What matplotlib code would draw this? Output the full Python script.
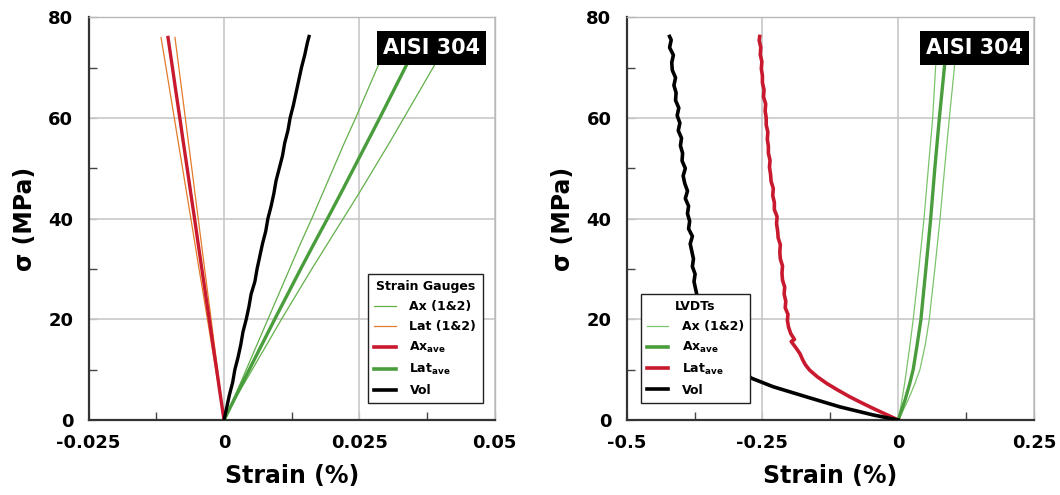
import matplotlib
matplotlib.use("Agg")
import matplotlib.pyplot as plt
from matplotlib.lines import Line2D
from matplotlib.patches import Rectangle
from matplotlib.ticker import FixedLocator

plt.rcParams['font.family'] = ['DejaVu Sans']
plt.rcParams['font.weight'] = 'bold'
plt.rcParams['mathtext.default'] = 'regular'

# ---------------- Left panel: strain gauges ----------------
sg_stress = [0, 5, 10, 15, 20, 25, 30, 35, 40, 45, 50, 55, 60, 65, 70, 76]
sg_ax1 = [0, 0.0021, 0.0041, 0.0061, 0.0081, 0.0101, 0.0121, 0.0141, 0.0162,
          0.0182, 0.0202, 0.0222, 0.0243, 0.0263, 0.0283, 0.0307]
sg_ax2 = [0, 0.0025, 0.0052, 0.0079, 0.0106, 0.0134, 0.0162, 0.0191, 0.0220,
          0.0249, 0.0277, 0.0305, 0.0332, 0.0359, 0.0386, 0.0418]
sg_lat1 = [0, -0.00077, -0.00153, -0.0023, -0.00306, -0.00383, -0.0046, -0.00536,
           -0.00612, -0.00689, -0.00765, -0.00842, -0.00918, -0.00995, -0.0107, -0.01163]
sg_lat2 = [0, -0.0006, -0.00119, -0.00179, -0.00238, -0.00298, -0.00357, -0.00417,
           -0.00476, -0.00536, -0.00595, -0.00655, -0.00714, -0.00774, -0.00834, -0.00905]
sg_lat_ave = [0, -0.00069, -0.00136, -0.00205, -0.00272, -0.00341, -0.00409, -0.00477,
              -0.00544, -0.00613, -0.0068, -0.00749, -0.00816, -0.00885, -0.00952, -0.01034]
sg_ax_ave = [0, 0.0023, 0.00465, 0.007, 0.00935, 0.01175, 0.01415, 0.0166, 0.0191,
             0.02155, 0.02395, 0.02635, 0.02875, 0.0311, 0.03345, 0.03625]
sg_vol_stress = [0, 2.5, 5, 7.5, 10, 12.5, 15, 17.5, 20, 22.5, 25, 27.5, 30, 32.5, 35,
                 37.5, 40, 42.5, 45, 47.5, 50, 52.5, 55, 57.5, 60, 62.5, 65, 67.5, 70,
                 72.5, 75, 76.2]
sg_vol = [0, 0.0005, 0.0010, 0.0016, 0.0020, 0.0026, 0.0031, 0.0035, 0.0041, 0.0046,
          0.0050, 0.0057, 0.0061, 0.0066, 0.0071, 0.0077, 0.0081, 0.0087, 0.0092, 0.0096,
          0.0102, 0.0108, 0.0112, 0.0118, 0.0122, 0.0128, 0.0133, 0.0138, 0.0143, 0.0149,
          0.0154, 0.0157]

# ---------------- Right panel: LVDTs ----------------
lv_ax_stress = [0, 2, 4, 7, 10, 15, 19.9, 30, 39.7, 50, 59.6, 71, 76]
lv_ax1 = [0, 0.0036, 0.007, 0.0115, 0.0155, 0.0218, 0.0276, 0.038, 0.0473, 0.0555,
          0.0633, 0.0694, 0.0725]
lv_ax2 = [0, 0.0095, 0.0184, 0.030, 0.040, 0.050, 0.0571, 0.0675, 0.0768, 0.0855,
          0.0939, 0.1044, 0.108]
lv_ax_ave = [0, 0.0065, 0.0127, 0.0207, 0.0276, 0.035, 0.0418, 0.051, 0.0596, 0.0675,
             0.0755, 0.086, 0.089]
lv_lat_stress = [0, 1, 2.3, 3.4, 4.6, 6, 7.3, 8.6, 9.9, 11, 12, 13.2, 14.3, 15.6, 16,
                 17.2, 18.5, 19.8, 21, 22.3, 23.6, 25, 26.4, 27.8, 29.2, 30.6, 32, 33.4,
                 34.8, 36.2, 37.6, 39, 40.4, 41.8, 43.2, 44.6, 46, 47.4, 48.8, 50.2, 51.6,
                 53, 54.4, 55.8, 57.2, 58.6, 60, 61.4, 62.8, 64.2, 65.6, 67, 68.4, 69.8,
                 71.2, 72.6, 74, 75.4, 76.2]
lv_lat_ave = [0, -0.020, -0.046, -0.067, -0.089, -0.112, -0.132, -0.149, -0.163, -0.171,
              -0.176, -0.181, -0.188, -0.197, -0.191, -0.198, -0.202, -0.204, -0.203,
              -0.208, -0.207, -0.210, -0.209, -0.213, -0.214, -0.213, -0.217, -0.218,
              -0.217, -0.221, -0.222, -0.224, -0.223, -0.228, -0.228, -0.231, -0.230,
              -0.234, -0.235, -0.237, -0.236, -0.239, -0.239, -0.241, -0.240, -0.243,
              -0.243, -0.245, -0.244, -0.248, -0.247, -0.250, -0.250, -0.252, -0.251,
              -0.254, -0.253, -0.256, -0.255]
lv_vol_stress = [0, 1.0, 2.6, 4.6, 6.6, 8.3, 11, 14.5, 19, 23, 26, 27.5, 29, 30.5, 32,
                 33.5, 35, 36.5, 38, 39.5, 41, 42.5, 44, 45.5, 47, 48.5, 50, 51.5, 53,
                 54.5, 56, 57.5, 59, 60.5, 62, 63.5, 65, 66.5, 68, 69.5, 71, 72.5, 74,
                 75.5, 76.2]
lv_vol = [0, -0.046, -0.107, -0.169, -0.230, -0.270, -0.305, -0.333, -0.355, -0.367,
          -0.373, -0.376, -0.374, -0.379, -0.377, -0.380, -0.383, -0.379, -0.386, -0.384,
          -0.388, -0.386, -0.392, -0.388, -0.393, -0.396, -0.392, -0.398, -0.397, -0.401,
          -0.399, -0.405, -0.402, -0.407, -0.404, -0.410, -0.409, -0.413, -0.410, -0.416,
          -0.417, -0.414, -0.421, -0.418, -0.421]

left_xticks = [-0.025, 0, 0.025, 0.05]
left_xlabels = ['-0.025', '0', '0.025', '0.05']
left_xminor = [-0.0125, 0.0125, 0.0375]
right_xticks = [-0.5, -0.25, 0, 0.25]
right_xlabels = ['-0.5', '-0.25', '0', '0.25']
right_xminor = [-0.375, -0.125, 0.125]
yticks = [0, 20, 40, 60, 80]
ylabels = ['0', '20', '40', '60', '80']

GREEN_THIN = '#62b04a'
GREEN_THIN_R = '#7cc46c'
GREEN = '#4a9d3c'
ORANGE = '#e47b2a'
RED = '#c8192e'
BLACK = '#000000'
GRID = '#c4c4c4'

fig = plt.figure(figsize=(10.6, 4.95), dpi=100)
ax1 = fig.add_axes([0.0836, 0.1515, 0.3832, 0.8135])
ax2 = fig.add_axes([0.5912, 0.1515, 0.3842, 0.8135])


def style(ax, xlim, xt, xl, xm):
    ax.set_xlim(xlim)
    ax.set_ylim(0, 80)
    ax.set_xticks(xt)
    ax.set_xticklabels(xl)
    ax.xaxis.set_minor_locator(FixedLocator(xm))
    ax.set_yticks(yticks)
    ax.set_yticklabels(ylabels)
    ax.yaxis.set_minor_locator(FixedLocator([10, 30, 50, 70]))
    ax.set_axisbelow(True)
    ax.grid(True, which='major', color=GRID, lw=1.1)
    ax.tick_params(which='major', direction='in', length=6, width=1, color=GRID,
                   labelsize=13)
    ax.tick_params(which='minor', direction='in', length=6, width=1, color='#444444')
    ax.tick_params(axis='x', which='major', pad=10)
    ax.tick_params(axis='y', which='major', pad=11)
    for s in ['top', 'right']:
        ax.spines[s].set_color('#b8b8b8')
        ax.spines[s].set_linewidth(1.0)
    for s in ['left', 'bottom']:
        ax.spines[s].set_color('#333333')
        ax.spines[s].set_linewidth(1.6)
    ax.set_xlabel('Strain (%)', fontsize=17, fontweight='bold', labelpad=9)
    ax.set_ylabel('σ (MPa)', fontsize=17, fontweight='bold', labelpad=8)


style(ax1, (-0.025, 0.05), left_xticks, left_xlabels, left_xminor)
style(ax2, (-0.5, 0.25), right_xticks, right_xlabels, right_xminor)

# Left panel lines
ax1.plot(sg_ax1, sg_stress, color=GREEN_THIN, lw=0.9, zorder=3)
ax1.plot(sg_ax2, sg_stress, color=GREEN_THIN, lw=0.9, zorder=3)
ax1.plot(sg_lat1, sg_stress, color=ORANGE, lw=0.9, zorder=3)
ax1.plot(sg_lat2, sg_stress, color=ORANGE, lw=0.9, zorder=3)
ax1.plot(sg_lat_ave, sg_stress, color=RED, lw=2.4, zorder=4)
ax1.plot(sg_ax_ave, sg_stress, color=GREEN, lw=2.4, zorder=4)
ax1.plot(sg_vol, sg_vol_stress, color=BLACK, lw=2.4, zorder=4)

# Right panel lines
ax2.plot(lv_ax1, lv_ax_stress, color=GREEN_THIN_R, lw=0.9, zorder=3)
ax2.plot(lv_ax2, lv_ax_stress, color=GREEN_THIN_R, lw=0.9, zorder=3)
ax2.plot(lv_ax_ave, lv_ax_stress, color=GREEN, lw=2.4, zorder=4)
ax2.plot(lv_lat_ave, lv_lat_stress, color=RED, lw=2.6, zorder=4)
ax2.plot(lv_vol, lv_vol_stress, color=BLACK, lw=2.6, zorder=4)

# Legends
h1 = [Line2D([], [], color=GREEN_THIN, lw=0.9),
      Line2D([], [], color=ORANGE, lw=0.9),
      Line2D([], [], color=RED, lw=2.6),
      Line2D([], [], color=GREEN, lw=2.6),
      Line2D([], [], color=BLACK, lw=2.6)]
l1 = ['Ax (1&2)', 'Lat (1&2)', r'Ax$_{\mathsf{ave}}$', r'Lat$_{\mathsf{ave}}$', 'Vol']
h2 = [Line2D([], [], color=GREEN_THIN_R, lw=0.9),
      Line2D([], [], color=GREEN, lw=2.6),
      Line2D([], [], color=RED, lw=2.6),
      Line2D([], [], color=BLACK, lw=2.6)]
l2 = ['Ax (1&2)', r'Ax$_{\mathsf{ave}}$', r'Lat$_{\mathsf{ave}}$', 'Vol']

common = dict(frameon=True, fancybox=False, edgecolor='#222222', framealpha=1,
              borderaxespad=0, prop={'size': 9, 'weight': 'bold'},
              title_fontproperties={'size': 9, 'weight': 'bold'},
              handlelength=1.7, handletextpad=1.1, labelspacing=0.55, borderpad=0.5)
leg1 = ax1.legend(h1, l1, title='Strain Gauges', loc='lower right',
                  bbox_to_anchor=(0.970, 0.0415), **common)
leg1.get_frame().set_linewidth(1.0)
leg1.set_zorder(10)
leg2 = ax2.legend(h2, l2, title='LVDTs', loc='lower left',
                  bbox_to_anchor=(0.0344, 0.042), **common)
leg2.get_frame().set_linewidth(1.0)
leg2.set_zorder(10)

# AISI 304 labels
for ax, x0, x1 in [(ax1, 0.709, 0.978), (ax2, 0.720, 0.988)]:
    ax.add_patch(Rectangle((x0, 0.8815), x1 - x0, 0.9667 - 0.8815,
                           transform=ax.transAxes, facecolor='black',
                           edgecolor='none', zorder=8))
    ax.text((x0 + x1) / 2, (0.8815 + 0.9667) / 2, 'AISI 304', transform=ax.transAxes,
            color='white', fontsize=15, fontweight='bold', ha='center', va='center',
            zorder=9)

fig.savefig('out.png', dpi=100)
